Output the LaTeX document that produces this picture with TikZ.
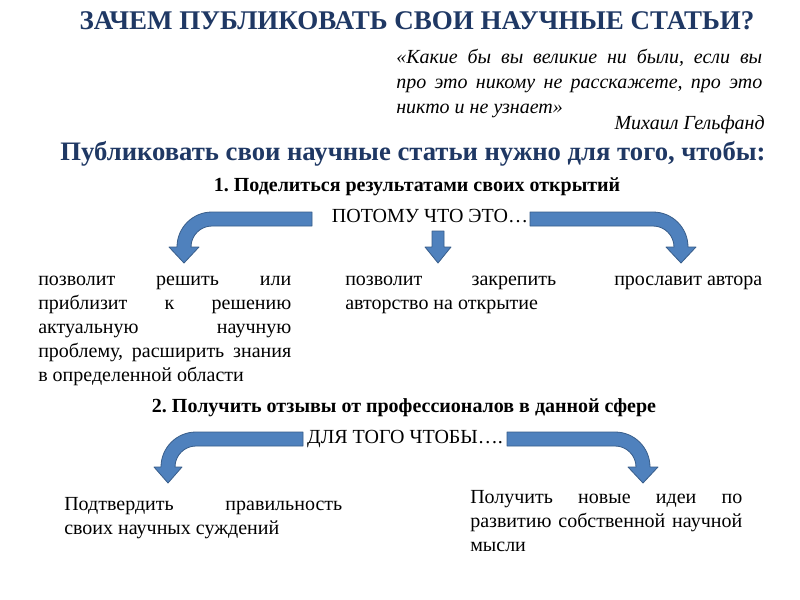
\documentclass[tikz,border=0pt]{standalone}
\usepackage{fontspec}
\setmainfont{Liberation Serif}
\frenchspacing
\definecolor{titleblue}{HTML}{1F3864}
\definecolor{arrowfill}{HTML}{4F81BD}
\definecolor{arrowline}{HTML}{385D8A}
\begin{document}
\begin{tikzpicture}[x=0.75pt,y=-0.75pt]
        \tikzset{heading/.style = {inner sep=0pt,text=titleblue,font=\bfseries}}
        \tikzset{point/.style = {inner sep=0pt,font=\fontsize{15}{18}\selectfont\bfseries}}
        \tikzset{body/.style = {inner sep=0pt,align=justify,font=\fontsize{15}{18}\selectfont}}
        \tikzset{quote/.style = {inner sep=0pt,font=\fontsize{15}{18.75}\selectfont\itshape}}
        \tikzset{blockarrow/.style = {fill=arrowfill,draw=arrowline,line width=0.6pt,line join=round}}
        \useasboundingbox[fill=white] (0,0) rectangle (800,600);
        % title and quote
        \node[heading,font=\fontsize{20.25}{24}\selectfont\bfseries,anchor=base] (title) at (417,29) {ЗАЧЕМ ПУБЛИКОВАТЬ СВОИ НАУЧНЫЕ СТАТЬИ?};
        \node[quote,text width=274.5pt,align=justify,anchor=base west] (quote) at (396,63) {«Какие бы вы великие ни были, если вы\linebreak про это никому не расскажете, про это\linebreak никто и не узнает»};
        \node[quote,anchor=base east] (author) at (765,129) {Михаил Гельфанд};
        \node[heading,font=\fontsize{20}{24}\selectfont\bfseries,anchor=base] (lead) at (413,160) {Публиковать свои научные статьи нужно для того, чтобы:};
        % first reason
        \node[point,anchor=base] (one) at (417,191) {1. Поделиться результатами своих открытий};
        \node[body,anchor=base] (because) at (430,222) {ПОТОМУ ЧТО ЭТО…};
        \draw[blockarrow] (312,212) -- (212,212) arc[start angle=-90,end angle=-180,radius=35]
            -- (169,247) -- (184,263) -- (199,247) -- (191,247)
            arc[start angle=180,end angle=270,radius=21] -- (312,226) -- cycle;
        \draw[blockarrow] (432,231) -- (444,231) -- (444,247) -- (451,247) -- (438,263)
            -- (425,247) -- (432,247) -- cycle;
        \draw[blockarrow] (530,212) -- (653,212) arc[start angle=-90,end angle=0,radius=35]
            -- (696,247) -- (681,263) -- (666,247) -- (674,247)
            arc[start angle=0,end angle=-90,radius=21] -- (530,226) -- cycle;
        \node[body,text width=189.75pt,anchor=base west] (solve) at (38,285) {позволит решить или\linebreak приблизит к решению\linebreak актуальную научную\linebreak проблему, расширить знания\linebreak в определенной области};
        \node[body,text width=158.25pt,anchor=base west] (secure) at (345,285) {позволит закрепить\linebreak авторство на открытие};
        \node[body,anchor=base west] (glory) at (614,285) {прославит автора};
        % second reason
        \node[point,anchor=base] (two) at (404,412) {2. Получить отзывы от профессионалов в данной сфере};
        \node[body,anchor=base] (inorder) at (405,443) {ДЛЯ ТОГО ЧТОБЫ….};
        \draw[blockarrow] (303,432) -- (196,432) arc[start angle=-90,end angle=-180,radius=35]
            -- (154,467) -- (168,483) -- (182,467) -- (175,467)
            arc[start angle=180,end angle=270,radius=21] -- (303,446) -- cycle;
        \draw[blockarrow] (507,432) -- (615,432) arc[start angle=-90,end angle=0,radius=35]
            -- (658,467) -- (643,483) -- (628,467) -- (636,467)
            arc[start angle=0,end angle=-90,radius=21] -- (507,446) -- cycle;
        \node[body,text width=208.5pt,anchor=base west] (confirm) at (64,510) {Подтвердить правильность\linebreak своих научных суждений};
        \node[body,text width=204pt,anchor=base west] (ideas) at (470,503) {Получить новые идеи по\linebreak развитию собственной научной\linebreak мысли};
\end{tikzpicture}
\end{document}
